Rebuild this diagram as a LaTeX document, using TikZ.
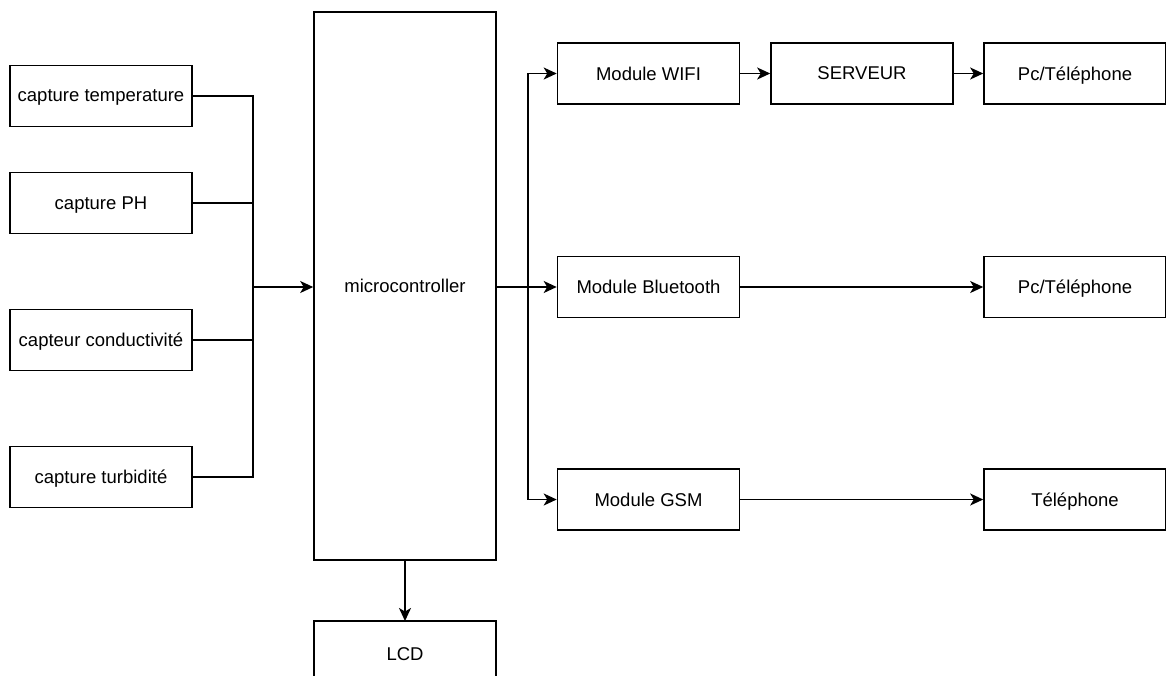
\documentclass[tikz,border=0pt]{standalone}
\usepackage{fontspec}
\setmainfont{Liberation Sans}
\usetikzlibrary{arrows.meta}
\begin{document}
\begin{tikzpicture}[x=1pt,y=-1pt,
  blk/.style={draw=black,line width=1.6pt,rectangle,inner sep=0pt,text depth=0pt,font=\fontsize{18.5}{22}\selectfont},
  wire/.style={line width=1.6pt,draw=black},
  arr/.style={wire,-{Stealth[length=13pt,width=12pt,inset=3.5pt]}}]
\useasboundingbox (0,0) rectangle (1166,675);
% left sensors
\node[blk,minimum width=182pt,minimum height=61pt] (temp) at (101,96) {capture temperature};
\node[blk,minimum width=182pt,minimum height=61pt] (ph) at (101,203) {capture PH};
\node[blk,minimum width=182pt,minimum height=61pt] (cond) at (101,340) {capteur conductivité};
\node[blk,minimum width=182pt,minimum height=61pt] (turb) at (101,477) {capture turbidité};
% microcontroller
\node[blk,minimum width=182pt,minimum height=548pt] (mcu) at (405,286) {microcontroller};
% LCD (cut at bottom)
\coordinate (lcdtl) at (314,621);
\coordinate (lcdtr) at (496,621);
\draw[wire] (314,680) -- (lcdtl) -- (lcdtr) -- (496,680);
\node[font=\fontsize{18.5}{22}\selectfont,text depth=0pt] (lcd) at (405,654) {LCD};
% right modules
\node[blk,minimum width=182pt,minimum height=61pt] (wifi) at (648.5,73.5) {Module WIFI};
\node[blk,minimum width=182pt,minimum height=61pt] (serv) at (862,73.5) {SERVEUR};
\node[blk,minimum width=182pt,minimum height=61pt] (pc1) at (1075,73.5) {Pc/Téléphone};
\node[blk,minimum width=182pt,minimum height=61pt] (bt) at (648.5,287) {Module Bluetooth};
\node[blk,minimum width=182pt,minimum height=61pt] (pc2) at (1075,287) {Pc/Téléphone};
\node[blk,minimum width=182pt,minimum height=61pt] (gsm) at (648.5,499.5) {Module GSM};
\node[blk,minimum width=182pt,minimum height=61pt] (tel) at (1075,499.5) {Téléphone};
% left bus
\coordinate (lb) at (253,287);
\draw[wire] (temp.east) -| (lb);
\draw[wire] (ph.east) -| (lb);
\draw[wire] (cond.east) -| (lb);
\draw[wire] (turb.east) -| (lb);
\draw[arr] (lb) -- (mcu.west |- lb);
% LCD arrow
\draw[arr] (mcu.south) -- (lcdtl -| mcu.south);
% right bus
\coordinate (rb) at (528,287);
\draw[arr] (mcu.east |- bt.west) -- (bt.west);
\draw[arr] (rb) |- (wifi.west);
\draw[arr] (rb) |- (gsm.west);
\draw[arr] (wifi.east) -- (serv.west);
\draw[arr] (serv.east) -- (pc1.west);
\draw[arr] (bt.east) -- (pc2.west);
\draw[arr] (gsm.east) -- (tel.west);
\end{tikzpicture}
\end{document}
